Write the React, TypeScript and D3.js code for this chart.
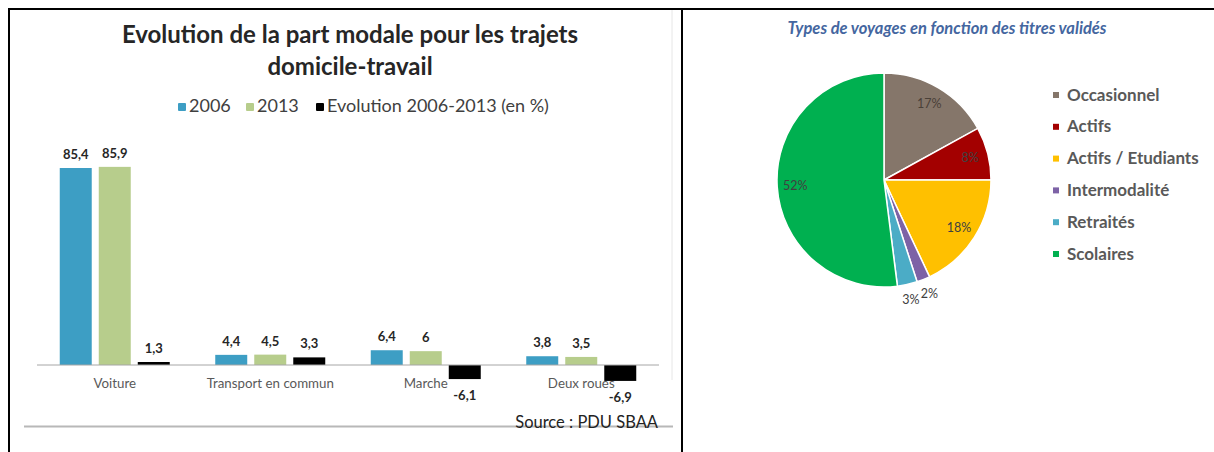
import React from "react";
import * as d3 from "d3";

const categories = ["Voiture", "Transport en commun", "Marche", "Deux roues"];
const seriesNames = ["2006", "2013", "Evolution 2006-2013 (en %)"];
const values2006 = [85.4, 4.4, 6.4, 3.8];
const values2013 = [85.9, 4.5, 6, 3.5];
const valuesEvol = [1.3, 3.3, -6.1, -6.9];
const barColors = ["#3d9ec4", "#b7cd8c", "#000000"];

const pieLabels = ["Occasionnel", "Actifs", "Actifs / Etudiants", "Intermodalité", "Retraités", "Scolaires"];
const pieValues = [17, 8, 18, 2, 3, 52];
const pieColors = ["#85766a", "#a30000", "#ffc000", "#7d62a6", "#4bacc6", "#00b050"];

const FONT = "Lato, 'Open Sans', sans-serif";
const fmt = (v: number) => String(v).replace(".", ",");

export default function App() {
  // ---------- left bar chart ----------
  const x0 = d3.scaleBand<string>().domain(categories).range([37, 659]).paddingInner(0).paddingOuter(0);
  const x1 = d3.scaleBand<string>().domain(seriesNames).range([0, 110]).paddingInner(0.18);
  const y = d3.scaleLinear().domain([-10, 90]).range([388.07, 157.4]);
  const series = [values2006, values2013, valuesEvol];

  const bars: JSX.Element[] = [];
  const labels: JSX.Element[] = [];
  categories.forEach((c, ci) => {
    const gx = (x0(c) as number) + (x0.bandwidth() - 110) / 2;
    series.forEach((s, si) => {
      const v = s[ci];
      const bx = gx + (x1(seriesNames[si]) as number);
      const bw = x1.bandwidth();
      const top = Math.min(y(v), y(0));
      const h = Math.abs(y(v) - y(0));
      bars.push(<rect key={`b${ci}-${si}`} x={bx} y={top} width={bw} height={h} fill={barColors[si]} />);
      labels.push(
        <text key={`l${ci}-${si}`} x={bx + bw / 2} y={v >= 0 ? y(v) - 9 : y(v) + 21}
          textAnchor="middle" fontSize={13} fontWeight={700} fill="#262626" fontFamily={FONT}>
          {fmt(v)}
        </text>
      );
    });
  });

  // ---------- right pie ----------
  const cx = 884, cy = 180, R = 107;
  const pie = d3.pie<number>().sort(null).value((d) => d);
  const arcs = pie(pieValues);
  const arcGen = d3.arc<d3.PieArcDatum<number>>().innerRadius(0).outerRadius(R);
  const total = d3.sum(pieValues);

  return (
    <svg width={1214} height={452} style={{ position: "absolute", left: 0, top: 0, background: "#fff" }}>
      <rect x={0} y={0} width={1214} height={452} fill="#fff" />
      {/* frame */}
      <line x1={8} x2={1214} y1={9} y2={9} stroke="#000" strokeWidth={2} />
      <line x1={9} x2={9} y1={8} y2={452} stroke="#000" strokeWidth={2} />
      <line x1={682} x2={682} y1={8} y2={452} stroke="#000" strokeWidth={2} />
      <line x1={672} x2={672} y1={10} y2={380} stroke="#e6e6e6" strokeWidth={1} />
      <line x1={24} x2={673} y1={426.5} y2={426.5} stroke="#b8b8b8" strokeWidth={2} />

      {/* left title */}
      <text x={350} y={43} textAnchor="middle" fontSize={24} fontWeight={700} fill="#262626" fontFamily={FONT}>
        Evolution de la part modale pour les trajets
      </text>
      <text x={350} y={75} textAnchor="middle" fontSize={24} fontWeight={700} fill="#262626" fontFamily={FONT}>
        domicile-travail
      </text>

      {/* legend */}
      {[178, 246, 316].map((lx, i) => (
        <g key={`lg${i}`}>
          <rect x={lx} y={103} width={8} height={8} rx={1} fill={barColors[i]} />
          <text x={lx + 11} y={112} fontSize={18} fill="#404040" fontFamily={FONT}>{seriesNames[i]}</text>
        </g>
      ))}

      {bars}
      <line x1={37} x2={659} y1={y(0)} y2={y(0)} stroke="#a6a6a6" strokeWidth={1} />
      {labels}
      {categories.map((c) => (
        <text key={c} x={(x0(c) as number) + x0.bandwidth() / 2} y={388} textAnchor="middle"
          fontSize={13.3} fill="#595959" fontFamily={FONT}>{c}</text>
      ))}
      <text x={658} y={428} textAnchor="end" fontSize={16.5} fill="#222" fontFamily={FONT}>Source : PDU SBAA</text>

      {/* right title */}
      <text x={947} y={34} textAnchor="middle" fontSize={16.5} fontWeight={700} fontStyle="italic" fill="#4466a0" fontFamily={FONT}>
        Types de voyages en fonction des titres validés
      </text>

      <g transform={`translate(${cx},${cy})`}>
        {arcs.map((a, i) => (
          <path key={`p${i}`} d={arcGen(a) as string} fill={pieColors[i]} stroke="#fff" strokeWidth={1.5} />
        ))}
        {arcs.map((a, i) => {
          const small = a.data / total < 0.05;
          const r = small ? R * 1.15 : R * 0.83;
          const mid = (a.startAngle + a.endAngle) / 2;
          const px = Math.sin(mid) * r;
          const py = -Math.cos(mid) * r;
          return (
            <text key={`pl${i}`} x={px} y={py + 4} textAnchor="middle" fontSize={12.5}
              fill={i === 0 ? "#4a4038" : "#404040"} fontFamily={FONT}>
              {Math.round((a.data / total) * 100)}%
            </text>
          );
        })}
      </g>

      {pieLabels.map((l, i) => (
        <g key={`rl${i}`}>
          <rect x={1053} y={92 + i * 31.8} width={6} height={6} fill={pieColors[i]} />
          <text x={1067} y={100.5 + i * 31.8} fontSize={17} fontWeight={700} fill="#595959" fontFamily={FONT}>{l}</text>
        </g>
      ))}
    </svg>
  );
}
